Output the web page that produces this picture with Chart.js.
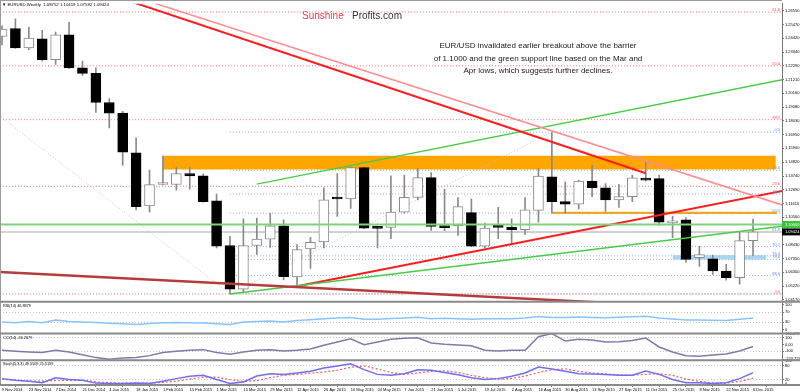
<!DOCTYPE html>
<html>
<head>
<meta charset="utf-8">
<title>EURUSD Weekly</title>
<script src="https://cdn.jsdelivr.net/npm/chart.js@4/dist/chart.umd.min.js"></script>
<style>
  html, body { margin: 0; padding: 0; background: #fff; }
  #wrap { width: 800px; height: 392px; }
</style>
</head>
<body>
<div id="wrap"><canvas id="chart" width="800" height="392"></canvas></div>
<script>
// one bar per week, week 0 = 9 Nov 2014; a date label every second week
const dateLabels = [
  '9 Nov 2014', '23 Nov 2014', '7 Dec 2014', '21 Dec 2014', '4 Jan 2015', '18 Jan 2015',
  '1 Feb 2015', '15 Feb 2015', '1 Mar 2015', '15 Mar 2015', '29 Mar 2015', '12 Apr 2015',
  '26 Apr 2015', '10 May 2015', '24 May 2015', '7 Jun 2015', '21 Jun 2015', '5 Jul 2015',
  '19 Jul 2015', '2 Aug 2015', '16 Aug 2015', '30 Aug 2015', '13 Sep 2015', '27 Sep 2015',
  '11 Oct 2015', '25 Oct 2015', '8 Nov 2015', '22 Nov 2015', '6 Dec 2015',
];

const opens = [
  1.2456, 1.2517, 1.2366, 1.2437, 1.2276, 1.2468, 1.2212, 1.2169, 1.1944, 1.1862,
  1.1555, 1.1144, 1.1309, 1.1309, 1.1394, 1.1376, 1.1182, 1.0837, 1.0499, 1.0837,
  1.0887, 1.0990, 1.0594, 1.0811, 1.0865, 1.1200, 1.1197, 1.1440, 1.0980, 1.0977,
  1.1095, 1.1210, 1.1363, 1.0980, 1.0990, 1.1092, 1.0831, 1.0980, 1.0977, 1.0960,
  1.1108, 1.1368, 1.1177, 1.1156, 1.1336, 1.1284, 1.1190, 1.1215, 1.1355, 1.1355,
  1.1012, 1.1036, 1.0742, 1.0734, 1.0640, 1.0588, 1.08752,
];
const highs = [
  1.2537, 1.2591, 1.2527, 1.2502, 1.2489, 1.2565, 1.2264, 1.2212, 1.1975, 1.1875,
  1.1670, 1.1420, 1.1530, 1.1445, 1.1445, 1.1389, 1.1236, 1.0908, 1.1044, 1.1049,
  1.1087, 1.1036, 1.0845, 1.0901, 1.1284, 1.1394, 1.1445, 1.1445, 1.0985, 1.1376,
  1.1382, 1.1432, 1.1402, 1.1274, 1.1207, 1.1197, 1.1010, 1.1132, 1.1044, 1.1207,
  1.1437, 1.1714, 1.1330, 1.1343, 1.1458, 1.1317, 1.1309, 1.1382, 1.1489, 1.1382,
  1.1065, 1.1054, 1.0831, 1.0762, 1.0691, 1.0947, 1.10419,
];
const lows = [
  1.2389, 1.2362, 1.2353, 1.2264, 1.2238, 1.2208, 1.2153, 1.1867, 1.1747, 1.1458,
  1.1113, 1.1095, 1.1305, 1.1266, 1.1274, 1.1173, 1.0818, 1.0461, 1.0473, 1.0768,
  1.0823, 1.0571, 1.0522, 1.0660, 1.0818, 1.1062, 1.1125, 1.0967, 1.0818, 1.0890,
  1.1087, 1.1190, 1.0954, 1.0952, 1.0916, 1.0828, 1.0818, 1.0890, 1.0845, 1.0921,
  1.1017, 1.1087, 1.1087, 1.1121, 1.1215, 1.1100, 1.1131, 1.1177, 1.1336, 1.0993,
  1.0897, 1.0708, 1.0675, 1.0614, 1.0568, 1.0538, 1.07592,
];
const closes = [
  1.2512, 1.2366, 1.2443, 1.2276, 1.2468, 1.2212, 1.2169, 1.1944, 1.1862, 1.1560,
  1.1138, 1.1309, 1.1312, 1.1394, 1.1376, 1.1177, 1.0831, 1.0499, 1.0837, 1.0887,
  1.0990, 1.0596, 1.0806, 1.0862, 1.1190, 1.1197, 1.1440, 1.0972, 1.0970, 1.1095,
  1.1210, 1.1363, 1.0985, 1.0975, 1.1138, 1.0831, 1.0972, 1.0977, 1.0960, 1.1113,
  1.1374, 1.1177, 1.1156, 1.1336, 1.1284, 1.1190, 1.1215, 1.1361, 1.1343, 1.1018,
  1.1028, 1.0729, 1.0766, 1.0640, 1.0588, 1.0875, 1.09424,
];

const rsi14 = [
  31, 28, 33, 28, 39, 33, 31, 29, 26, 24, 21, 25, 28, 29, 28, 27, 24, 21, 31, 33,
  35, 31, 37, 40, 44, 47, 49, 42, 42, 45, 47, 50, 44, 46, 44, 42, 44, 44, 44, 47,
  53, 49, 49, 51, 49, 48, 50, 52, 54, 47, 43, 39, 39, 38, 37, 42, 46.8879,
];
const cci14 = [
  -87, -102, -113, -122, -87, -113, -155, -198, -223.7299, -205, -198, -168, -122, -102, -87,
  -77, -122, -147, -113, -87, -77, -97, -87, -67, -12, 38, 89, -2, 38, 79,
  94, 103, 23, 3, -7, -17, -87, -97, -87, -87, 118, 166.0707, 53, 79, 69,
  38, 43, 63, 98, -37, -113, -168, -177, -157, -142, -97, -30.2679,
];
const stochMain = [
  24, 17, 13, 7, 28, 20, 17, 5, 3, 3, 5, 3, 13, 24, 34, 38, 20, 3, 10, 35,
  45, 42, 48, 55, 69, 78, 87, 62, 42, 38, 45, 62, 59, 50, 40, 28, 20, 24, 34, 48,
  73, 65, 55, 45, 44, 42, 38, 38, 56, 42, 20, 7, 7, 3, 7, 24, 49.5509,
];
const stochSignal = [
  21, 17, 13, 13, 16, 17, 17, 10, 7, 5, 5, 5, 8, 13, 22, 30, 30, 20, 12, 16,
  28, 38, 42, 47, 52, 60, 72, 78, 65, 50, 42, 48, 55, 57, 50, 38, 28, 22, 25, 35,
  50, 62, 65, 55, 48, 44, 40, 39, 42, 45, 38, 22, 12, 6, 5, 12, 25.5199,
];

const priceTicks = [
  1.2655, 1.2547, 1.2442, 1.2334, 1.2229, 1.2121, 1.2016, 1.1908, 1.1803, 1.1695, 1.1590,
  1.1482, 1.1374, 1.1269, 1.1161, 1.1056, 1.0843, 1.0735, 1.0630, 1.0522, 1.0417,
];
const rsiTicks = [100, 70, 30, 0];
const cciTicks = [166.0707, 100, 0, -100, -223.7299];
const stochTicks = [100, 80, 20, 0];

// fibonacci retracement levels
const redFibNames = ['0.0', '23.6', '38.2', '50.0', '61.8'];
const redFibPrices = [1.0462, 1.1295, 1.1811, 1.2228, 1.2644];
const blueFibNames = ['0.0', '23.6', '38.2', '50.0', '61.8', '70.7', '76.4', '78.6', '88.6', ''];
const blueFibPrices = [1.1714, 1.1419, 1.1236, 1.1088, 1.0940, 1.0829, 1.0757, 1.0730, 1.0605, 1.0462];

// trend lines: [week, price] anchor pairs
const resistanceRed = [[-27, 1.3993], [48, 1.1396]];
const resistancePink = [[-27, 1.3993], [58.17, 1.1151]];
const channelGreen = [[19, 1.1312], [60, 1.2158]];
const supportRed = [[22, 1.0522], [60, 1.1296]];
const supportGreen = [[17, 1.0461], [60, 1.1010]];
const longTermBrown = [[-5, 1.0658], [45, 1.0394]];
const fibSwingA = [[-27, 1.3993], [17, 1.0462]];
const fibSwingB = [[17, 1.0462], [41, 1.1714]];

// zones: [from week, to week, low, high]
const zones = [[12, 57.7, 1.1425, 1.1532], [41, 57.8, 1.1081, 1.1099], [50, 57, 1.0729, 1.0762]];
const zoneColors = ['#ffa500', '#ffa500', '#a9d6f2'];

const breakoutLevel = 1.1000;
const lastPrice = 1.09424;

const FONT = '"Liberation Sans", Arial, sans-serif';
Chart.defaults.font.family = FONT;

const weeks = opens.map((_, i) => i);
const pts = (pairs) => pairs.map(([x, y]) => ({ x, y }));

function seg(pairs, color, width, dash, order) {
  return {
    type: 'line', data: pts(pairs), yAxisID: 'y',
    borderColor: color, borderWidth: width, borderDash: dash || [],
    pointRadius: 0, tension: 0, fill: false, order,
  };
}

const datasets = [];

zones.forEach((z, k) => {
  datasets.push({
    type: 'line', yAxisID: 'y', order: 100,
    data: pts([[z[0], z[2]], [z[1], z[2]]]),
    fill: { value: z[3] }, backgroundColor: zoneColors[k],
    borderWidth: 0, pointRadius: 0,
  });
});

redFibPrices.forEach((p) => datasets.push(seg([[-27, p], [60, p]], '#ff7373', 1, [1, 2], 95)));
blueFibPrices.forEach((p) => datasets.push(seg([[17, p], [60, p]], '#8bb8ef', 1, [1, 2], 95)));
datasets.push(seg(fibSwingA, '#c4c4c4', 1, [1, 2], 94));
datasets.push(seg(fibSwingB, '#c4c4c4', 1, [1, 2], 94));
datasets.push(seg([[-1, lastPrice], [60, lastPrice]], '#c4c4c4', 1.5, [], 93));

// candles: wick behind, body on top
datasets.push({
  type: 'bar', yAxisID: 'y', order: 60, grouped: false,
  data: weeks.map((i) => ({ x: i, y: [lows[i], highs[i]] })),
  backgroundColor: '#8a8a8a', barThickness: 1,
});
datasets.push({
  type: 'bar', yAxisID: 'y', order: 50, grouped: false,
  data: weeks.map((i) => ({ x: i, y: [opens[i], closes[i]] })),
  backgroundColor: weeks.map((i) => (closes[i] > opens[i] ? '#ffffff' : '#000000')),
  borderColor: weeks.map((i) => (closes[i] > opens[i] ? '#8a8a8a' : '#000000')),
  borderWidth: 1, borderSkipped: false, barThickness: 10, minBarLength: 2,
});

datasets.push(seg([[-1, breakoutLevel], [60, breakoutLevel]], '#7fd37f', 2, [], 20));
datasets.push(seg(longTermBrown, '#b53c3c', 2.5, [], 20));
datasets.push(seg(resistancePink, '#ff8c8c', 1.5, [], 20));
datasets.push(seg(resistanceRed, '#ff1c1c', 2, [], 20));
datasets.push(seg(channelGreen, '#46cc46', 1.5, [], 20));
datasets.push(seg(supportGreen, '#46cc46', 1.5, [], 20));
datasets.push(seg(supportRed, '#ff1c1c', 2, [], 20));

datasets.push({
  type: 'line', yAxisID: 'yRsi', order: 5, data: weeks.map((i) => ({ x: i, y: rsi14[i] })),
  borderColor: '#88c4fb', borderWidth: 1.5, pointRadius: 0, tension: 0,
});
datasets.push({
  type: 'line', yAxisID: 'yCci', order: 5, data: weeks.map((i) => ({ x: i, y: cci14[i] })),
  borderColor: '#7c7caa', borderWidth: 1.5, pointRadius: 0, tension: 0,
});
datasets.push({
  type: 'line', yAxisID: 'ySto', order: 6, data: weeks.map((i) => ({ x: i, y: stochSignal[i] })),
  borderColor: '#ff5a5a', borderWidth: 1.2, borderDash: [2, 2], pointRadius: 0, tension: 0,
});
datasets.push({
  type: 'line', yAxisID: 'ySto', order: 5, data: weeks.map((i) => ({ x: i, y: stochMain[i] })),
  borderColor: '#6f6ff2', borderWidth: 1.5, pointRadius: 0, tension: 0,
});

function paneAxis(weight, min, max, tickValues, fmt, dotted) {
  return {
    type: 'linear', position: 'right', stack: 'panes', stackWeight: weight, min, max,
    afterBuildTicks: (s) => { s.ticks = tickValues.map((v) => ({ value: v })); },
    afterFit: (s) => { s.width = 18; },
    ticks: { callback: fmt, autoSkip: false, font: { size: 4 }, color: '#000', padding: 1 },
    grid: {
      drawTicks: true, tickLength: 2, tickColor: '#777', lineWidth: 1,
      color: (c) => (c.tick && dotted.includes(c.tick.value) ? '#c4c4c4' : 'rgba(0,0,0,0)'),
    },
    border: { display: true, color: '#777', dash: [1, 2] },
  };
}

// keep every dataset inside its own pane
const paneClip = {
  id: 'paneClip',
  beforeDatasetDraw(chart, args) {
    const y = args.meta.yScale;
    const a = chart.chartArea;
    chart.ctx.save();
    chart.ctx.beginPath();
    chart.ctx.rect(a.left, y.top, a.right - a.left, y.bottom - y.top);
    chart.ctx.clip();
  },
  afterDatasetDraw(chart) {
    chart.ctx.restore();
  },
};

const overlay = {
  id: 'overlay',
  afterDraw(chart) {
    const { ctx, chartArea: a, scales } = chart;
    const y = scales.y;
    ctx.save();

    // fib level labels
    ctx.font = '4px ' + FONT;
    ctx.textAlign = 'right';
    ctx.textBaseline = 'bottom';
    ctx.fillStyle = '#ff5050';
    redFibPrices.forEach((p, k) => ctx.fillText(redFibNames[k], a.right - 2, y.getPixelForValue(p)));
    ctx.fillStyle = '#5d92dc';
    blueFibPrices.forEach((p, k) => ctx.fillText(blueFibNames[k], a.right - 2, y.getPixelForValue(p)));

    // pane frame
    ctx.strokeStyle = '#9a9a9a';
    ctx.lineWidth = 1;
    ctx.beginPath();
    ctx.moveTo(0, 0.5); ctx.lineTo(a.right, 0.5);
    ctx.moveTo(0.5, 0); ctx.lineTo(0.5, scales.ySto.bottom);
    ctx.stroke();
    ctx.strokeStyle = '#8a8a8a';
    ctx.lineWidth = 2;
    [scales.yRsi.top, scales.yCci.top, scales.ySto.top, scales.ySto.bottom].forEach((yy) => {
      ctx.beginPath(); ctx.moveTo(0, yy); ctx.lineTo(chart.width, yy); ctx.stroke();
    });

    // price boxes on the axis
    ctx.font = '4px ' + FONT;
    ctx.textAlign = 'left';
    ctx.textBaseline = 'middle';
    [[breakoutLevel, '#3cc23c', '1.10000'], [lastPrice, '#000', '1.09424']].forEach(([p, bg, txt]) => {
      const py = y.getPixelForValue(p);
      ctx.fillStyle = bg;
      ctx.fillRect(a.right, py - 3.5, chart.width - a.right, 7);
      ctx.fillStyle = '#fff';
      ctx.fillText(txt, a.right + 3, py);
    });

    // header and pane titles
    ctx.fillStyle = '#000';
    ctx.font = '4.3px ' + FONT;
    ctx.textBaseline = 'middle';
    ctx.fillText('\u25BC EURUSD,Weekly  1.08752 1.10419 1.07592 1.09424', 2, 5);
    ctx.font = '3.8px ' + FONT;
    ctx.fillText('RSI(14) 46.8879', 3, scales.yRsi.top + 4);
    ctx.fillText('CCI(14) -30.2679', 3, scales.yCci.top + 4);
    ctx.fillText('Stoch(5,3,3) 49.5509 25.5199', 3, scales.ySto.top + 4);

    // brand
    ctx.font = '10px ' + FONT;
    ctx.textBaseline = 'alphabetic';
    ctx.fillStyle = '#e8404f';
    ctx.fillText('Sunshine', 302, 18.5);
    ctx.fillStyle = '#333';
    ctx.fillText('Profits.com', 352, 18.5);

    // comment
    ctx.font = '8px ' + FONT;
    ctx.textAlign = 'center';
    ctx.textBaseline = 'middle';
    ctx.fillStyle = '#1a1a1a';
    ['EUR/USD invalidated earlier breakout above the barrier',
     'of 1.1000 and the green support line based on the Mar and',
     'Apr lows, which suggests further declines.'].forEach((t, k) => ctx.fillText(t, 538, 46 + k * 12.5));

    ctx.restore();
  },
};

new Chart(document.getElementById('chart'), {
  type: 'line',
  data: { datasets },
  options: {
    responsive: false,
    animation: false,
    events: [],
    layout: { padding: 0 },
    plugins: { legend: { display: false }, tooltip: { enabled: false } },
    scales: {
      x: {
        type: 'linear', position: 'bottom', min: -0.149, max: 58.16, offset: false,
        afterBuildTicks: (s) => { s.ticks = dateLabels.map((_, k) => ({ value: 2 * k })); },
        afterFit: (s) => { s.height = 7; },
        ticks: {
          callback: (v) => dateLabels[v / 2], align: 'start', maxRotation: 0, autoSkip: false,
          font: { size: 4 }, color: '#000', padding: 0,
        },
        grid: { drawOnChartArea: false, drawTicks: true, tickLength: 2, color: '#777' },
        border: { display: false },
      },
      y: paneAxis(301, 1.04017, 1.2711, priceTicks, (v) => v.toFixed(5), []),
      yRsi: paneAxis(32, -14.6, 111.9, rsiTicks, (v) => String(v), [70, 30]),
      yCci: paneAxis(27, -237.6, 168.4, cciTicks,
        (v) => (v === 0 ? '0.00' : Number.isInteger(v) ? String(v) : v.toFixed(4)), [100, -100]),
      ySto: paneAxis(25, -3, 102, stochTicks, (v) => String(v), [80, 20]),
    },
  },
  plugins: [paneClip, overlay],
});
</script>
</body>
</html>
